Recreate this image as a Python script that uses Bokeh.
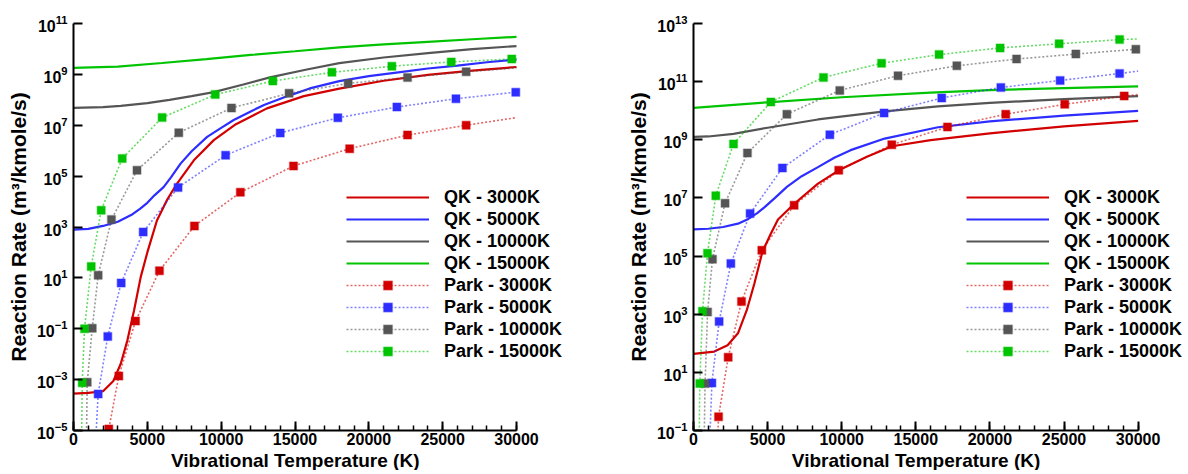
from bokeh.plotting import figure
from bokeh.models import Range1d, SingleIntervalTicker, FixedTicker, Legend, LegendItem, Title
from bokeh.layouts import row
from bokeh.embed import file_html
from bokeh.resources import INLINE

FONT = "Liberation Sans"
SERIES = ["3000K", "5000K", "10000K", "15000K"]
COLORS = {"3000K": "#D20000", "5000K": "#2D2DFF", "10000K": "#555555", "15000K": "#00C400"}

# ---------------- LEFT PANEL ----------------
L_QK3000_X = [0, 1000, 2000, 2700, 3200, 3650, 4100, 4550, 5000, 5650, 6350, 7000, 8150, 9500,
              11000, 13100, 15600, 18000, 21000, 24000, 27000, 30000]
L_QK3000_Y = [2.8e-4, 3.0e-4, 3.5e-4, 8.9e-4, 4.2e-3, 3.5e-2, 0.52, 10.7, 100, 1.8e3, 1.2e4, 5.0e4,
              4.2e5, 2.6e6, 1.1e7, 4.6e7, 1.4e8, 2.75e8, 5.6e8, 9.5e8, 1.4e9, 1.95e9]
L_QK5000_X = [0, 1000, 2000, 3000, 4000, 4500, 5000, 5500, 6100, 6600, 7250, 8000, 9050, 10000,
              10850, 12000, 12900, 14500, 16000, 18000, 20000, 22000, 24000, 26000, 28000, 30000]
L_QK5000_Y = [7.9e2, 8.5e2, 1.1e3, 1.6e3, 3.2e3, 5.2e3, 8.9e3, 1.8e4, 3.7e4, 8.9e4, 3.1e5, 9.5e5,
              3.5e6, 7.9e6, 1.6e7, 3.5e7, 6.2e7, 1.4e8, 2.8e8, 5.4e8, 8.5e8, 1.2e9, 1.7e9, 2.2e9,
              3.0e9, 3.8e9]
L_QK10000_X = [0, 2000, 3200, 5000, 6500, 8000, 9500, 11500, 13300, 15800, 18000, 21000, 24000,
               27000, 30000]
L_QK10000_Y = [4.8e7, 5.2e7, 5.8e7, 7.4e7, 1.0e8, 1.4e8, 2.0e8, 4.0e8, 7.6e8, 1.55e9, 2.75e9,
               4.6e9, 6.8e9, 9.8e9, 1.3e10]
L_QK15000_X = [0, 3000, 6000, 9000, 12000, 15000, 18000, 21000, 24000, 27000, 30000]
L_QK15000_Y = [1.8e9, 2.0e9, 2.8e9, 4.0e9, 5.8e9, 8.1e9, 1.15e10, 1.5e10, 1.9e10, 2.4e10, 3.0e10]

L_PARK3000_X = [2390, 3070, 4200, 5820, 8190, 11300, 14900, 18700, 22620, 26590]
L_PARK3000_Y = [1.15e-5, 1.4e-3, 0.20, 19, 1.1e3, 2.3e4, 2.5e5, 1.2e6, 4.1e6, 1.0e7]
L_PARK3000_ENDS = [(2250, 1e-6), (30000, 2.0e7)]
L_PARK5000_X = [1670, 2320, 3230, 4720, 7080, 10300, 14000, 17900, 21900, 25900, 29950]
L_PARK5000_Y = [2.75e-4, 5.0e-2, 6.3, 6.3e2, 3.6e4, 6.6e5, 5.0e6, 1.95e7, 5.2e7, 1.1e8, 2.0e8]
L_PARK5000_ENDS = [(1450, 1e-6), (30000, 2.05e8)]
L_PARK10000_X = [930, 1270, 1670, 2570, 4300, 7130, 10700, 14600, 18600, 22620, 26590]
L_PARK10000_Y = [7.9e-4, 0.105, 12.6, 1.95e3, 1.7e5, 5.1e6, 4.8e7, 1.8e8, 4.4e8, 7.6e8, 1.26e9]
L_PARK10000_ENDS = [(860, 1e-6), (30000, 1.8e9)]
L_PARK15000_X = [590, 745, 1200, 1875, 3300, 6000, 9600, 13500, 17500, 21560, 25580, 29680]
L_PARK15000_Y = [7.6e-4, 0.1, 28, 4.6e3, 4.9e5, 2.0e7, 1.6e8, 5.5e8, 1.2e9, 2.1e9, 3.1e9, 4.0e9]
L_PARK15000_ENDS = [(540, 1e-6), (30000, 4.1e9)]

L_YTICKS = [1e-5, 1e-3, 1e-1, 1e1, 1e3, 1e5, 1e7, 1e9, 1e11]

# ---------------- RIGHT PANEL ----------------
R_QK3000_X = [0, 1400, 2300, 3000, 3600, 4100, 4650, 5200, 5700, 6800, 8400, 9800, 11700, 13400,
              16000, 20000, 25000, 30000]
R_QK3000_Y = [43, 52, 85, 2.2e2, 1.4e3, 1.1e4, 1.4e5, 5.6e5, 1.8e6, 6.3e6, 3.1e7, 8.9e7, 2.6e8,
              6.0e8, 9.8e8, 1.66e9, 2.9e9, 4.5e9]
R_QK5000_X = [0, 1000, 2000, 3000, 3700, 4300, 4800, 5500, 6300, 7300, 8400, 9500, 10600, 12900,
              16500, 20000, 25000, 30000]
R_QK5000_Y = [8.3e5, 8.7e5, 1.0e6, 1.3e6, 1.9e6, 3.0e6, 4.8e6, 1.0e7, 2.4e7, 5.6e7, 1.15e8, 2.4e8,
              4.4e8, 1.1e9, 2.7e9, 4.3e9, 6.8e9, 9.8e9]
R_QK10000_X = [0, 1000, 2700, 5000, 8400, 12900, 16500, 20000, 25000, 30000]
R_QK10000_Y = [1.26e9, 1.3e9, 1.6e9, 2.6e9, 5.0e9, 9.5e9, 1.4e10, 1.86e10, 2.5e10, 3.2e10]
R_QK15000_X = [0, 5000, 10000, 16000, 20000, 25000, 30000]
R_QK15000_Y = [1.26e10, 1.95e10, 2.9e10, 4.2e10, 5.1e10, 6.0e10, 6.9e10]

R_PARK3000_X = [1690, 2340, 3240, 4610, 6790, 9800, 13380, 17140, 21070, 25050, 29060]
R_PARK3000_Y = [0.30, 33, 2.75e3, 1.6e5, 5.6e6, 8.9e7, 6.8e8, 2.75e9, 7.6e9, 1.66e10, 3.2e10]
R_PARK3000_ENDS = [(1580, 1e-2), (30000, 3.6e10)]
R_PARK5000_X = [1240, 1730, 2520, 3820, 6000, 9200, 12860, 16750, 20740, 24740, 28750]
R_PARK5000_Y = [4.3, 5.6e2, 5.5e4, 2.9e6, 1.07e8, 1.5e9, 8.3e9, 2.75e10, 6.3e10, 1.1e11, 1.9e11]
R_PARK5000_ENDS = [(1050, 1e-2), (30000, 2.3e11)]
R_PARK10000_X = [780, 950, 1280, 2130, 3640, 6300, 9870, 13800, 17770, 21800, 25800, 29850]
R_PARK10000_Y = [4.1, 1.2e3, 7.8e4, 6.6e6, 3.5e8, 7.6e9, 5.0e10, 1.6e11, 3.5e11, 6.0e11, 8.9e11,
                 1.3e12]
R_PARK10000_ENDS = [(700, 1e-2), (30000, 1.32e12)]
R_PARK15000_X = [425, 607, 945, 1505, 2700, 5220, 8770, 12690, 16570, 20690, 24670, 28750]
R_PARK15000_Y = [4.1, 1.26e3, 1.26e5, 1.2e7, 7.2e8, 2.0e10, 1.4e11, 4.3e11, 8.5e11, 1.45e12,
                 2.0e12, 2.8e12]
R_PARK15000_ENDS = [(370, 1e-2), (30000, 2.95e12)]

R_YTICKS = [1e-1, 1e1, 1e3, 1e5, 1e7, 1e9, 1e11, 1e13]

X_LABEL = "Vibrational Temperature (K)"
Y_LABEL = "Reaction Rate (m\u00b3/kmole/s)"
X_MAX = 30000


def park_line(mx, my, ends):
    (x0, y0), (x1, y1) = ends
    return [x0] + list(mx) + [x1], [y0] + list(my) + [y1]


def make_plot(qk, park, y_lo, y_hi, yticks, border_left, frame_w, data_w, legend_x):
    # the frame is wider than the 0..30000 axis so the legend (which sits partly
    # outside the axes, as in the reference) is not clipped
    x_end = X_MAX * frame_w / data_w
    p = figure(frame_width=frame_w, frame_height=407,
               x_range=Range1d(0, x_end), y_range=Range1d(y_lo, y_hi),
               y_axis_type="log", output_backend="svg", toolbar_location=None,
               min_border_left=border_left, min_border_right=0,
               min_border_top=23, min_border_bottom=10)
    p.outline_line_color = None
    p.xgrid.visible = False
    p.ygrid.visible = False
    p.background_fill_color = "white"
    p.border_fill_color = "white"

    xa = p.xaxis[0]
    ya = p.yaxis[0]
    xa.ticker = SingleIntervalTicker(interval=5000, num_minor_ticks=5)
    xa.bounds = (0, X_MAX)
    ya.ticker = FixedTicker(ticks=yticks)
    for ax in (xa, ya):
        ax.axis_line_width = 2
        ax.axis_line_color = "black"
        ax.major_tick_line_width = 2
        ax.major_tick_line_color = "black"
        ax.major_tick_in = 9
        ax.major_tick_out = 0
        ax.minor_tick_in = 5
        ax.minor_tick_out = 0
        ax.minor_tick_line_width = 1.5
        ax.minor_tick_line_color = "black"
        ax.major_label_text_font = FONT
        ax.major_label_text_font_style = "bold"
        ax.major_label_text_color = "black"
        ax.axis_label_text_font = FONT
        ax.axis_label_text_font_style = "bold"
        ax.axis_label_text_color = "black"
    ya.minor_tick_line_color = None
    xa.major_label_text_font_size = "16px"
    ya.major_label_text_font_size = "16px"
    xa.major_label_standoff = 2
    ya.major_label_standoff = 6
    ya.axis_label = Y_LABEL
    ya.axis_label_text_font_size = "21px"
    ya.axis_label_standoff = 4

    # x-axis title centred under the 0..30000 axis (frame is wider than the axis)
    label_w = 248
    xt = Title(text=X_LABEL, align="left", offset=data_w / 2 - label_w / 2,
               text_font=FONT, text_font_style="bold", text_font_size="19px",
               text_color="black", standoff=0)
    p.add_layout(xt, "below")

    items = []
    for s in SERIES:
        xs, ys = qk[s]
        r = p.line(xs, ys, line_color=COLORS[s], line_width=2.2)
        items.append(LegendItem(label=f"QK - {s}", renderers=[r]))
    for s in SERIES:
        mx, my, ends = park[s]
        lx, ly = park_line(mx, my, ends)
        rl = p.line(lx, ly, line_color=COLORS[s], line_width=1.6, line_dash="2 2", line_alpha=0.6)
        rm = p.scatter(mx, my, marker="square", size=8, fill_color=COLORS[s],
                       line_color=COLORS[s], line_alpha=0.35, line_width=1.5)
        items.append(LegendItem(label=f"Park - {s}", renderers=[rl, rm]))

    legend = Legend(items=items, location=(legend_x, 68), glyph_width=83, glyph_height=22,
                    label_height=22, spacing=0, padding=0, margin=0, label_standoff=15,
                    border_line_color=None, background_fill_alpha=0,
                    label_text_font=FONT, label_text_font_style="bold",
                    label_text_font_size="18px", label_text_color="black")
    p.add_layout(legend)
    return p


left_qk = {"3000K": (L_QK3000_X, L_QK3000_Y), "5000K": (L_QK5000_X, L_QK5000_Y),
           "10000K": (L_QK10000_X, L_QK10000_Y), "15000K": (L_QK15000_X, L_QK15000_Y)}
left_park = {"3000K": (L_PARK3000_X, L_PARK3000_Y, L_PARK3000_ENDS),
             "5000K": (L_PARK5000_X, L_PARK5000_Y, L_PARK5000_ENDS),
             "10000K": (L_PARK10000_X, L_PARK10000_Y, L_PARK10000_ENDS),
             "15000K": (L_PARK15000_X, L_PARK15000_Y, L_PARK15000_ENDS)}
right_qk = {"3000K": (R_QK3000_X, R_QK3000_Y), "5000K": (R_QK5000_X, R_QK5000_Y),
            "10000K": (R_QK10000_X, R_QK10000_Y), "15000K": (R_QK15000_X, R_QK15000_Y)}
right_park = {"3000K": (R_PARK3000_X, R_PARK3000_Y, R_PARK3000_ENDS),
              "5000K": (R_PARK5000_X, R_PARK5000_Y, R_PARK5000_ENDS),
              "10000K": (R_PARK10000_X, R_PARK10000_Y, R_PARK10000_ENDS),
              "15000K": (R_PARK15000_X, R_PARK15000_Y, R_PARK15000_ENDS)}

p1 = make_plot(left_qk, left_park, 1e-5, 1e11, L_YTICKS, 73, 550, 443, 273)
p2 = make_plot(right_qk, right_park, 1e-1, 1e13, R_YTICKS, 70, 490, 444.6, 273)

layout = row(p1, p2)
open("out.html", "w").write(file_html(layout, INLINE))
